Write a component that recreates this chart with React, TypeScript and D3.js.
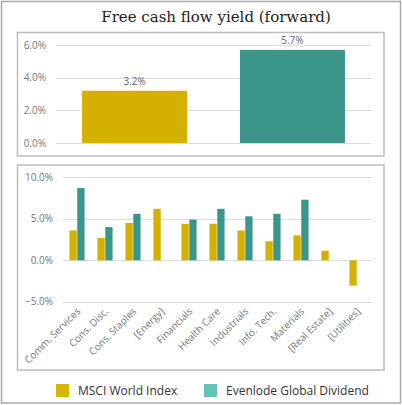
import { useEffect, useRef } from "react";
import * as d3 from "d3";

const series = ["MSCI World Index", "Evenlode Global Dividend"];
const seriesColors = ["#d4b100", "#3a958b"];
const legendColors = ["#d9b400", "#63c3b7"];

const overallValues = [3.2, 5.7];
const overallTicks = [0, 2, 4, 6];

const sectors = [
  "Comm. Services",
  "Cons. Disc.",
  "Cons. Staples",
  "[Energy]",
  "Financials",
  "Health Care",
  "Industrials",
  "Info. Tech.",
  "Materials",
  "[Real Estate]",
  "[Utilities]",
];
const msciValues = [3.6, 2.7, 4.5, 6.2, 4.4, 4.4, 3.6, 2.3, 3.0, 1.15, -3.05];
const evenlodeValues = [8.7, 4.0, 5.6, null, 4.9, 6.2, 5.3, 5.6, 7.3, null, null];
const sectorTicks = [-5, 0, 5, 10];

const W = 402;
const H = 405;
const labelFont = "'Open Sans', 'DejaVu Sans', sans-serif";

export default function App() {
  const svgRef = useRef<SVGSVGElement>(null);

  useEffect(() => {
    if (!svgRef.current) return;
    const svg = d3.select(svgRef.current);
    svg.selectAll("*").remove();

    // Outer frame
    svg.append("rect")
      .attr("x", 1.5).attr("y", 1.5).attr("width", 399).attr("height", 401.5)
      .attr("fill", "#fff").attr("stroke", "#a9a9a9").attr("stroke-width", 1.5);

    svg.append("text")
      .attr("x", 216).attr("y", 22)
      .attr("text-anchor", "middle")
      .attr("font-family", "'DejaVu Serif', serif")
      .attr("font-size", 15)
      .attr("fill", "#222")
      .text("Free cash flow yield (forward)");

    // Panels
    svg.append("rect")
      .attr("x", 17.5).attr("y", 32.5).attr("width", 366.5).attr("height", 123.5)
      .attr("fill", "#fff").attr("stroke", "#bdbdbd").attr("stroke-width", 1.5);
    svg.append("rect")
      .attr("x", 17.5).attr("y", 165).attr("width", 366.5).attr("height", 205)
      .attr("fill", "#fff").attr("stroke", "#bdbdbd").attr("stroke-width", 1.5);

    // --- Top chart: overall yield
    const y1 = d3.scaleLinear().domain([0, 6]).range([143, 45]);
    const x1 = d3.scaleBand<string>().domain(series).range([56, 371])
      .paddingInner(0.335).paddingOuter(0.165);

    const top = svg.append("g");
    top.selectAll(".grid")
      .data(overallTicks)
      .enter()
      .append("line")
      .attr("x1", 56).attr("x2", 371)
      .attr("y1", (d) => Math.round(y1(d)) + 0.5)
      .attr("y2", (d) => Math.round(y1(d)) + 0.5)
      .attr("stroke", "#dcdcdc");
    top.selectAll(".tick")
      .data(overallTicks)
      .enter()
      .append("text")
      .attr("x", 46)
      .attr("y", (d) => y1(d) + 3.5)
      .attr("text-anchor", "end")
      .attr("font-family", labelFont)
      .attr("font-size", 10)
      .attr("fill", "#777")
      .text((d) => d3.format(".1f")(d) + "%");
    top.selectAll(".bar")
      .data(overallValues)
      .enter()
      .append("rect")
      .attr("x", (_, i) => x1(series[i]) as number)
      .attr("width", x1.bandwidth())
      .attr("y", (d) => y1(d))
      .attr("height", (d) => y1(0) - y1(d))
      .attr("fill", (_, i) => seriesColors[i]);
    top.selectAll(".val")
      .data(overallValues)
      .enter()
      .append("text")
      .attr("x", (_, i) => (x1(series[i]) as number) + x1.bandwidth() / 2)
      .attr("y", (d) => y1(d) - 6)
      .attr("text-anchor", "middle")
      .attr("font-family", labelFont)
      .attr("font-size", 10)
      .attr("fill", "#666")
      .text((d) => d3.format(".1f")(d) + "%");

    // --- Bottom chart: by sector
    const y2 = d3.scaleLinear().domain([-5, 10]).range([301.8, 177.3]);
    const x2 = d3.scaleBand<string>().domain(sectors).range([63, 371])
      .paddingInner(0.46).paddingOuter(0.23);
    const xs = d3.scaleBand<string>().domain(series).range([0, x2.bandwidth()]).paddingInner(0.07);

    const bottom = svg.append("g");
    bottom.selectAll(".grid")
      .data(sectorTicks)
      .enter()
      .append("line")
      .attr("x1", 63).attr("x2", 371)
      .attr("y1", (d) => Math.round(y2(d)) + 0.5)
      .attr("y2", (d) => Math.round(y2(d)) + 0.5)
      .attr("stroke", "#dcdcdc");
    bottom.selectAll(".tick")
      .data(sectorTicks)
      .enter()
      .append("text")
      .attr("x", 53)
      .attr("y", (d) => y2(d) + 3.5)
      .attr("text-anchor", "end")
      .attr("font-family", labelFont)
      .attr("font-size", 10)
      .attr("fill", "#777")
      .text((d) => d3.format(".1f")(d) + "%");

    const rows = sectors.flatMap((s, i) => [
      { s, k: series[0], v: msciValues[i], c: seriesColors[0] },
      { s, k: series[1], v: evenlodeValues[i], c: seriesColors[1] },
    ]).filter((d) => d.v !== null) as { s: string; k: string; v: number; c: string }[];

    bottom.selectAll(".bar")
      .data(rows)
      .enter()
      .append("rect")
      .attr("x", (d) => (x2(d.s) as number) + (xs(d.k) as number))
      .attr("width", xs.bandwidth())
      .attr("y", (d) => y2(Math.max(0, d.v)))
      .attr("height", (d) => Math.abs(y2(d.v) - y2(0)))
      .attr("fill", (d) => d.c);

    bottom.selectAll(".cat")
      .data(sectors)
      .enter()
      .append("text")
      .attr("transform", (d) => `translate(${(x2(d) as number) + x2.bandwidth() / 2 + 4},${312}) rotate(-45)`)
      .attr("text-anchor", "end")
      .attr("font-family", labelFont)
      .attr("font-size", 10)
      .attr("fill", "#777")
      .text((d) => d);

    // Legend
    const legendX = [56, 204];
    const legend = svg.append("g");
    series.forEach((s, i) => {
      legend.append("rect")
        .attr("x", legendX[i]).attr("y", 384).attr("width", 13).attr("height", 13)
        .attr("fill", legendColors[i]);
      legend.append("text")
        .attr("x", legendX[i] + 22).attr("y", 394.5)
        .attr("font-family", labelFont)
        .attr("font-size", 12)
        .attr("fill", "#333")
        .text(s);
    });
  }, []);

  return (
    <svg
      ref={svgRef}
      width={W}
      height={H}
      viewBox={`0 0 ${W} ${H}`}
      style={{ position: "absolute", left: 0, top: 0, background: "#fff" }}
    />
  );
}
